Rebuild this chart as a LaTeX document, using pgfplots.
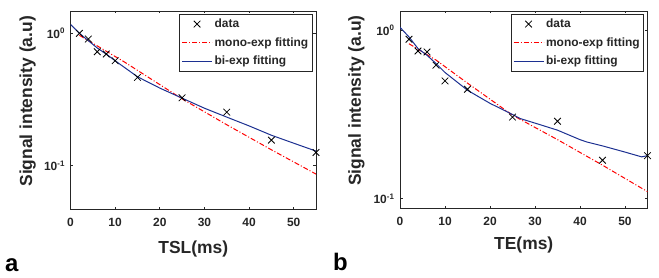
\documentclass[border=0pt]{standalone}
\usepackage{fontspec}
\setmainfont{Liberation Sans}
\usepackage{pgfplots}
\pgfplotsset{compat=1.18}
\definecolor{txt}{RGB}{38,38,38}
\definecolor{fitblue}{RGB}{28,48,145}
\pgfplotsset{
  legend image code/.code={\draw[mark repeat=2,mark phase=2,#1] plot coordinates {(0bp,0bp) (15bp,0bp) (30bp,0bp)};},
  every axis/.append style={
    scale only axis, anchor=south west,
    xmin=0, xmax=55,
    xtick={0,10,...,50},
    ytick={0.1,1}, yticklabels={10\textsuperscript{-1},10\textsuperscript{0}},
    minor tick length=0pt,
    tick align=inside, tick pos=both, major tick length=2.5bp,
    axis line style={txt, line width=0.6bp},
    every tick/.style={txt, line width=0.6bp},
    /pgf/number format/assume math mode=true,
    tick label style={font=\bfseries\fontsize{12}{14}\selectfont, text=txt},
    xticklabel style={yshift=-5.5bp},
    yticklabel style={xshift=-2bp},
    label style={font=\bfseries\fontsize{17.5}{19}\selectfont, text=txt},
    legend style={at={(1,1)}, anchor=north east, xshift=-3.5bp, yshift=-2.7bp,
      draw=txt, line width=0.6bp, font=\bfseries\fontsize{12}{14}\selectfont, text=txt,
      inner xsep=2bp, inner ysep=3bp, row sep=4.5bp},
    legend cell align=left,
  },
}
\begin{document}
\begin{tikzpicture}
\useasboundingbox (0,0) rectangle (659bp,278bp);

\begin{axis}[ymode=log, at={(70.5bp,68.5bp)}, width=245.5bp, height=198.5bp,
  ymin=0.0467, ymax=1.475,
  xlabel={TSL(ms)}, ylabel={Signal intensity (a.u)},
  xlabel style={at={(axis description cs:0.5,-0.2)}, anchor=center},
  ylabel style={at={(axis description cs:-0.175,0.545)}, anchor=center}]
\addplot[only marks, mark=x, mark size=4.7bp, mark options={black, line width=0.8bp}, black] coordinates {(2,1.00) (4,0.906) (6,0.726) (8,0.698) (10,0.621) (15,0.465) (25,0.326) (35,0.254) (45,0.156) (55,0.126)};
\addlegendentry{data}
\addplot[red, line width=1bp, dash pattern=on 5bp off 2bp on 1bp off 2bp, mark=none] coordinates {(2,0.966) (12,0.610) (25,0.320) (35,0.204) (45,0.132) (55,0.0865)};
\addlegendentry{mono-exp fitting}
\addplot[fitblue, line width=1bp, mark=none] coordinates {(0,1.17) (2,1.0) (4,0.88) (6,0.775) (8,0.697) (10,0.621) (15,0.47) (20,0.386) (25,0.324) (30,0.272) (35,0.233) (40,0.20) (45,0.170) (50,0.148) (55,0.129)};
\addlegendentry{bi-exp fitting}
\end{axis}

\begin{axis}[ymode=log, at={(400bp,70bp)}, width=247.5bp, height=197bp,
  ymin=0.088, ymax=1.30,
  xlabel={TE(ms)}, ylabel={Signal intensity (a.u)},
  xlabel style={at={(axis description cs:0.5,-0.19)}, anchor=center},
  ylabel style={at={(axis description cs:-0.176,0.545)}, anchor=center}]
\addplot[only marks, mark=x, mark size=4.7bp, mark options={black, line width=0.8bp}, black] coordinates {(2,0.884) (4,0.753) (6,0.743) (8,0.620) (10,0.500) (15,0.446) (25,0.305) (35,0.288) (45,0.169) (55,0.180)};
\addlegendentry{data}
\addplot[red, line width=1bp, dash pattern=on 5bp off 2bp on 1bp off 2bp, mark=none] coordinates {(2,0.831) (8,0.665) (15,0.485) (25,0.313) (35,0.224) (45,0.158) (55,0.110)};
\addlegendentry{mono-exp fitting}
\addplot[fitblue, line width=1bp, mark=none] coordinates {(0,1.04) (2,0.912) (4,0.778) (6,0.71) (8,0.634) (10,0.561) (15,0.44) (20,0.368) (25,0.316) (26.7,0.299) (31.1,0.275) (35,0.255) (40,0.224) (41.5,0.217) (45.2,0.205) (50,0.189) (53.7,0.177) (55,0.180)};
\addlegendentry{bi-exp fitting}
\end{axis}

\node[anchor=base west, inner sep=0, font=\bfseries\fontsize{24}{24}\selectfont] at (5bp,6.5bp) {a};
\node[anchor=base west, inner sep=0, font=\bfseries\fontsize{24}{24}\selectfont] at (333bp,7.3bp) {b};
\end{tikzpicture}
\end{document}
